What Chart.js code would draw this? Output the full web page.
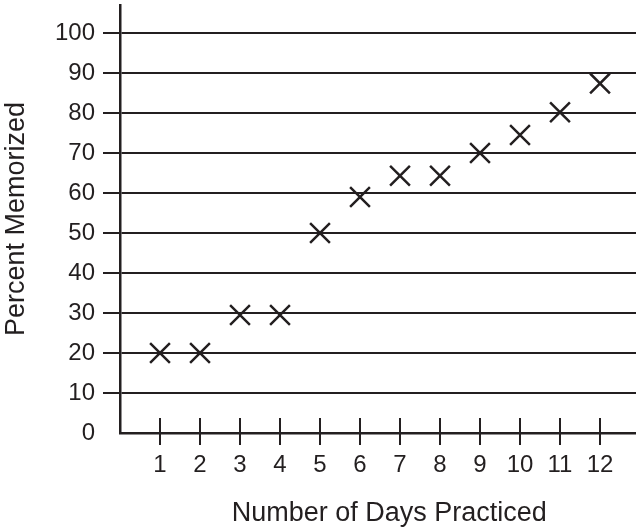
<!DOCTYPE html>
<html>
<head>
<meta charset="utf-8">
<script src="https://cdn.jsdelivr.net/npm/chart.js@4.4.1/dist/chart.umd.min.js"></script>
<style>
  html, body { margin: 0; padding: 0; background: #ffffff; }
  canvas { display: block; }
</style>
</head>
<body>
<canvas id="myChart" width="636" height="530"></canvas>
<script>
// data
const days = [1, 2, 3, 4, 5, 6, 7, 8, 9, 10, 11, 12];
const percentMemorized = [20, 20, 29.5, 29.5, 50, 59, 64.3, 64.3, 70, 74.5, 80.2, 87.4];
const xTicks = [1, 2, 3, 4, 5, 6, 7, 8, 9, 10, 11, 12];
const yTicks = [0, 10, 20, 30, 40, 50, 60, 70, 80, 90, 100];

const ink = '#231f20';
const fontFamily = '"Liberation Sans", Arial, Helvetica, sans-serif';

// tick marks crossing the x axis (above and below)
const crossTicks = {
    id: 'crossTicks',
    afterDraw(chart) {
        const x = chart.scales.x;
        const ctx = chart.ctx;
        const y0 = chart.chartArea.bottom;
        ctx.save();
        ctx.strokeStyle = ink;
        ctx.lineWidth = 2;
        x.ticks.forEach(t => {
            const px = Math.round(x.getPixelForValue(t.value));
            ctx.beginPath();
            ctx.moveTo(px, y0 - 15);
            ctx.lineTo(px, y0 + 12);
            ctx.stroke();
        });
        ctx.restore();
    }
};

const chart = new Chart(document.getElementById('myChart'), {
    type: 'scatter',
    data: {
        datasets: [{
            data: days.map((d, i) => ({ x: d, y: percentMemorized[i] })),
            pointStyle: 'crossRot',
            pointRadius: 14,
            pointHoverRadius: 14,
            borderColor: ink,
            backgroundColor: ink,
            borderWidth: 2.5,
            pointBorderWidth: 2.5
        }]
    },
    options: {
        responsive: false,
        devicePixelRatio: 1,
        animation: false,
        events: [],
        layout: { autoPadding: false, padding: { top: 5, left: 0, right: 0, bottom: 0 } },
        plugins: {
            legend: { display: false },
            tooltip: { enabled: false }
        },
        scales: {
            x: {
                type: 'linear',
                min: 0,
                max: 12.9,
                afterBuildTicks: s => { s.ticks = xTicks.map(v => ({ value: v })); },
                afterFit: s => { s.height = 97; s.paddingLeft = 0; s.paddingRight = 0; },
                grid: { display: false, drawOnChartArea: false, drawTicks: false },
                border: { display: true, color: ink, width: 2.5 },
                ticks: {
                    color: ink,
                    padding: 18,
                    maxRotation: 0,
                    autoSkip: false,
                    font: { family: fontFamily, size: 24 }
                },
                title: {
                    display: true,
                    text: '   Number of Days Practiced',
                    color: ink,
                    padding: { top: 0, bottom: 0 },
                    font: { family: fontFamily, size: 27 }
                }
            },
            y: {
                min: 0,
                max: 107,
                afterBuildTicks: s => { s.ticks = yTicks.map(v => ({ value: v })); },
                afterFit: s => { s.width = 120; s.paddingTop = 0; s.paddingBottom = 0; },
                grid: {
                    color: c => (c.tick && c.tick.value === 0) ? 'rgba(0,0,0,0)' : ink,
                    lineWidth: 2,
                    drawTicks: true,
                    tickLength: 17
                },
                border: { display: true, color: ink, width: 2.5 },
                ticks: {
                    color: ink,
                    padding: 8,
                    font: { family: fontFamily, size: 24 }
                },
                title: {
                    display: true,
                    text: 'Percent Memorized',
                    color: ink,
                    padding: { top: 0, bottom: 0 },
                    font: { family: fontFamily, size: 27 }
                }
            }
        }
    },
    plugins: [crossTicks]
});
</script>
</body>
</html>
